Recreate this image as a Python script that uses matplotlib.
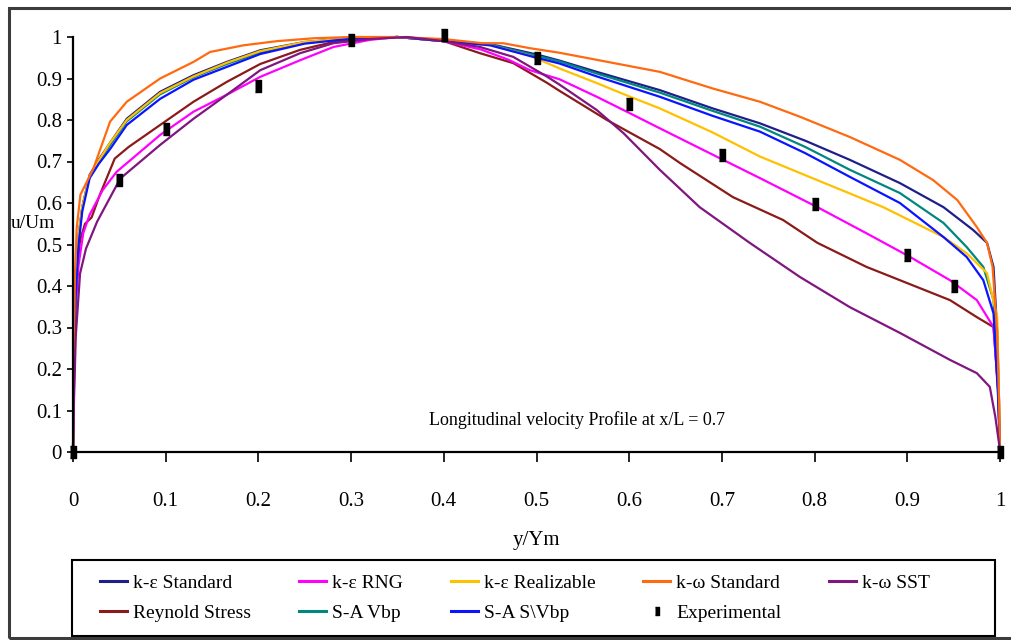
"""Longitudinal velocity profiles at x/L = 0.7: turbulence models vs experiment."""

import matplotlib
matplotlib.use("Agg")
import matplotlib.pyplot as plt
from matplotlib.patches import Rectangle

plt.rcParams["font.family"] = ["Liberation Serif", "DejaVu Serif"]

# k-e Standard
x_ke_std = [0, 0.001, 0.003, 0.006, 0.01, 0.018, 0.028, 0.04, 0.058, 0.094, 0.13, 0.166, 0.202,
            0.25, 0.3, 0.35, 0.4, 0.45, 0.5, 0.525, 0.565, 0.633, 0.69, 0.741, 0.79, 0.838,
            0.892, 0.939, 0.971, 0.986, 0.993, 0.997, 0.999, 1.0]
y_ke_std = [0, 0.2, 0.4, 0.52, 0.59, 0.668, 0.705, 0.745, 0.803, 0.868, 0.908, 0.94, 0.968,
            0.988, 0.997, 1.0, 0.99, 0.983, 0.958, 0.943, 0.916, 0.872, 0.828, 0.792, 0.75, 0.704,
            0.648, 0.59, 0.535, 0.504, 0.446, 0.29, 0.12, 0.0]

# k-e RNG
x_ke_rng = [0, 0.001, 0.003, 0.006, 0.011, 0.018, 0.032, 0.047, 0.094, 0.13, 0.166, 0.202,
            0.245, 0.281, 0.32, 0.35, 0.4, 0.44, 0.47, 0.493, 0.525, 0.565, 0.601, 0.633, 0.695,
            0.741, 0.803, 0.856, 0.903, 0.946, 0.975, 0.993, 0.998, 1.0]
y_ke_rng = [0, 0.15, 0.35, 0.45, 0.527, 0.572, 0.631, 0.675, 0.764, 0.82, 0.861, 0.904,
            0.944, 0.976, 0.993, 1.0, 0.99, 0.97, 0.945, 0.92, 0.898, 0.856, 0.816, 0.78, 0.711,
            0.66, 0.59, 0.527, 0.47, 0.414, 0.366, 0.301, 0.15, 0.0]

# k-e Realizable
x_ke_real = [0, 0.001, 0.003, 0.006, 0.01, 0.018, 0.028, 0.04, 0.058, 0.094, 0.13, 0.166, 0.202,
             0.25, 0.3, 0.35, 0.4, 0.45, 0.493, 0.525, 0.565, 0.601, 0.633, 0.69, 0.741, 0.803,
             0.874, 0.939, 0.964, 0.986, 0.997, 0.999, 1.0]
y_ke_real = [0, 0.2, 0.4, 0.52, 0.59, 0.665, 0.703, 0.745, 0.8, 0.865, 0.905, 0.938, 0.966,
             0.988, 0.997, 1.0, 0.99, 0.98, 0.955, 0.924, 0.889, 0.856, 0.828, 0.77, 0.712, 0.655,
             0.59, 0.518, 0.479, 0.431, 0.325, 0.12, 0.0]

# k-w Standard
x_kw_std = [0, 0.001, 0.002, 0.004, 0.008, 0.022, 0.04, 0.058, 0.094, 0.13, 0.148, 0.184, 0.22,
            0.26, 0.3, 0.35, 0.4, 0.442, 0.464, 0.493, 0.525, 0.565, 0.633, 0.69, 0.741, 0.784,
            0.838, 0.892, 0.928, 0.954, 0.975, 0.986, 0.992, 0.997, 0.999, 1.0]
y_kw_std = [0, 0.25, 0.42, 0.54, 0.62, 0.683, 0.796, 0.844, 0.9, 0.94, 0.964, 0.98, 0.99,
            0.997, 1.0, 1.0, 0.995, 0.985, 0.985, 0.973, 0.962, 0.945, 0.916, 0.876, 0.844, 0.808,
            0.759, 0.704, 0.655, 0.607, 0.542, 0.504, 0.446, 0.287, 0.12, 0.0]

# k-w SST
x_kw_sst = [0, 0.001, 0.003, 0.0076, 0.014, 0.026, 0.051, 0.094, 0.13, 0.166, 0.202, 0.245,
            0.281, 0.32, 0.36, 0.4, 0.439, 0.475, 0.511, 0.525, 0.565, 0.594, 0.633, 0.676, 0.73,
            0.784, 0.838, 0.892, 0.946, 0.975, 0.989, 0.995, 0.999, 1.0]
y_kw_sst = [0, 0.12, 0.28, 0.43, 0.49, 0.555, 0.659, 0.74, 0.803, 0.861, 0.92, 0.961,
            0.985, 0.995, 1.0, 0.99, 0.976, 0.952, 0.905, 0.885, 0.824, 0.768, 0.68, 0.59, 0.504,
            0.422, 0.349, 0.287, 0.222, 0.19, 0.157, 0.084, 0.02, 0.0]

# Reynolds stress model
x_rsm = [0, 0.001, 0.003, 0.0076, 0.013, 0.02, 0.029, 0.045, 0.06, 0.094, 0.13, 0.166, 0.202,
         0.245, 0.281, 0.32, 0.35, 0.396, 0.439, 0.475, 0.511, 0.525, 0.576, 0.633, 0.655,
         0.712, 0.766, 0.803, 0.856, 0.91, 0.946, 0.975, 0.993, 0.998, 1.0]
y_rsm = [0, 0.2, 0.4, 0.51, 0.55, 0.565, 0.62, 0.707, 0.735, 0.788, 0.844, 0.892, 0.935,
         0.969, 0.988, 0.997, 1.0, 0.993, 0.961, 0.937, 0.89, 0.87, 0.8, 0.73, 0.696,
         0.614, 0.559, 0.504, 0.446, 0.398, 0.366, 0.325, 0.301, 0.15, 0.0]

# Spalart-Allmaras, vorticity based production
x_sa_vbp = [0, 0.001, 0.003, 0.006, 0.01, 0.018, 0.028, 0.04, 0.058, 0.094, 0.13, 0.166, 0.202,
            0.25, 0.3, 0.35, 0.4, 0.45, 0.5, 0.525, 0.565, 0.633, 0.69, 0.741, 0.79, 0.838,
            0.892, 0.939, 0.964, 0.982, 0.993, 0.998, 1.0]
y_sa_vbp = [0, 0.2, 0.4, 0.52, 0.59, 0.665, 0.7, 0.74, 0.797, 0.862, 0.903, 0.935, 0.963,
            0.986, 0.997, 1.0, 0.99, 0.982, 0.955, 0.941, 0.912, 0.866, 0.822, 0.784, 0.735, 0.68,
            0.624, 0.552, 0.494, 0.446, 0.366, 0.15, 0.0]

# Spalart-Allmaras, strain/vorticity based production
x_sa_svbp = [0, 0.001, 0.003, 0.006, 0.01, 0.018, 0.028, 0.04, 0.058, 0.094, 0.13, 0.166, 0.202,
             0.25, 0.3, 0.35, 0.4, 0.45, 0.5, 0.525, 0.565, 0.633, 0.69, 0.741, 0.79, 0.838,
             0.892, 0.939, 0.964, 0.982, 0.993, 0.998, 1.0]
y_sa_svbp = [0, 0.2, 0.38, 0.5, 0.58, 0.66, 0.695, 0.73, 0.788, 0.851, 0.897, 0.928, 0.959,
             0.984, 0.996, 1.0, 0.99, 0.98, 0.95, 0.936, 0.905, 0.856, 0.81, 0.772, 0.72, 0.663,
             0.6, 0.518, 0.47, 0.414, 0.334, 0.13, 0.0]

x_exp = [0, 0.05, 0.1, 0.2, 0.3, 0.4, 0.5, 0.6, 0.7, 0.8, 0.9, 0.95, 1.0]
y_exp = [0, 0.655, 0.778, 0.882, 0.993, 1.005, 0.949, 0.839, 0.716, 0.598, 0.475, 0.40, 0.0]

tick_values = [0, 0.1, 0.2, 0.3, 0.4, 0.5, 0.6, 0.7, 0.8, 0.9, 1]
tick_labels = ["0", "0.1", "0.2", "0.3", "0.4", "0.5", "0.6", "0.7", "0.8", "0.9", "1"]

series = [
    ("k-ε Standard", x_ke_std, y_ke_std, "#1f1f8a"),
    ("Reynold Stress", x_rsm, y_rsm, "#8b1a1a"),
    ("k-ε RNG", x_ke_rng, y_ke_rng, "#ff00ff"),
    ("S-A Vbp", x_sa_vbp, y_sa_vbp, "#00877f"),
    ("k-ε Realizable", x_ke_real, y_ke_real, "#ffc000"),
    ("S-A S\\Vbp", x_sa_svbp, y_sa_svbp, "#0a14ff"),
    ("k-ω Standard", x_kw_std, y_kw_std, "#ff6a10"),
]

W, H = 1012, 640
fig = plt.figure(figsize=(W / 100, H / 100), dpi=100)
ax = fig.add_axes([73 / W, 1 - 452 / H, 927 / W, 415 / H])

# draw order: SST on top of the others, experimental marks last
handles = {}
for name, xs, ys, col in series:
    handles[name], = ax.plot(xs, ys, color=col, lw=1.6, clip_on=False, label=name)
handles["k-ω SST"], = ax.plot(x_kw_sst, y_kw_sst, color="#80167f", lw=1.6, clip_on=False,
                              label="k-ω SST")

bar_marker = [(-0.25, -0.5), (0.25, -0.5), (0.25, 0.5), (-0.25, 0.5)]
handles["Experimental"], = ax.plot(x_exp, y_exp, ls="none", marker=bar_marker, ms=8,
                                   color="black", clip_on=False, zorder=5,
                                   label="Experimental")

ax.set_xlim(0, 1)
ax.set_ylim(0, 1)
ax.set_xticks(tick_values)
ax.set_xticklabels(tick_labels)
ax.set_yticks(tick_values)
ax.set_yticklabels(tick_labels)
ax.tick_params(axis="x", direction="out", length=7, width=1.2, pad=22, labelsize=15)
ax.tick_params(axis="y", direction="out", length=4, width=1.2, pad=4, labelsize=15)
for side in ("top", "right"):
    ax.spines[side].set_visible(False)
for side in ("left", "bottom"):
    ax.spines[side].set_linewidth(1.6)

ax.set_xlabel("y/Ym", fontsize=15, labelpad=14)
fig.text(11 / W, 1 - 224 / H, "u/Um", fontsize=14, ha="left", va="center")

ax.text(0.544, 0.077, "Longitudinal velocity Profile at x/L = 0.7", fontsize=13,
        ha="center", va="center", transform=ax.transAxes)

# legend box spans the full width, entries are spread over a narrower band
fig.add_artist(Rectangle((72 / W, 4 / H), 923 / W, 76 / H, transform=fig.transFigure,
                         fill=False, edgecolor="black", lw=1.5))
order = ["k-ε Standard", "Reynold Stress", "k-ε RNG", "S-A Vbp", "k-ε Realizable",
         "S-A S\\Vbp", "k-ω Standard", "Experimental", "k-ω SST"]
leg = fig.legend([handles[n] for n in order], order, loc="center",
                 bbox_to_anchor=(100 / W, 4 / H, 830 / W, 76 / H), mode="expand",
                 ncol=5, fontsize=14, frameon=False, borderpad=0.0,
                 labelspacing=0.62, handlelength=1.4, handletextpad=0.3,
                 borderaxespad=0, markerscale=0.8)
for line in leg.get_lines():
    line.set_linewidth(2.2)

# outer border
fig.add_artist(Rectangle((9 / W, 2.5 / H), 1.05, 629.5 / H, transform=fig.transFigure,
                         fill=False, edgecolor="#3c3c3c", lw=2.2))

fig.savefig("out.png", dpi=100)
